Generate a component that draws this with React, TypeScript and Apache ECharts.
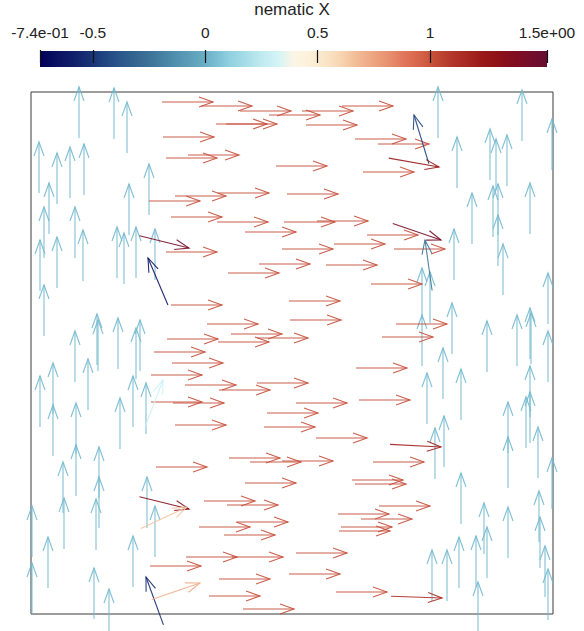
import React, { useEffect, useRef } from "react";
import * as echarts from "echarts";

// ---- colour bar (nematic X) ----
const CB_MIN = -0.735;
const CB_MAX = 1.52;
const colorTicks = [-0.735, -0.5, 0, 0.5, 1, 1.52];
const colorTickLabels = ["-7.4e-01", "-0.5", "0", "0.5", "1", "1.5e+00"];
const COLORMAP = [
  "#000059", "#0a1061", "#101e69", "#172f73", "#204380", "#29568a", "#336591", "#3d7499",
  "#4985a6", "#5697b3", "#63a7bf", "#77bcd1", "#92d1e0", "#a7dde8", "#c0eaf0", "#d2f4f7",
  "#fcf5e6", "#fcf1d9", "#fae5c8", "#f7d5b2", "#f2bb96", "#eda682", "#e8906f", "#e0755a",
  "#d66349", "#c24b36", "#b3362b", "#a62821", "#991818", "#8c1119", "#800d20", "#730e2c",
  "#660e31",
];

// ---- glyph field (arrow tip positions, domain units) ----
// arrows pointing up (nematic X ~ 0)
const upTipX = [
  79, 114, 127, 39, 57, 70, 84, 149, 49, 44, 75, 129, 83, 117, 124, 136, 155, 40, 57,
  438, 522, 552, 457, 490, 496, 507, 472, 493, 498, 530, 498, 454, 503,
  44, 97, 98, 118, 140, 136, 75, 88, 53, 40, 133, 146, 53, 76, 120,
  422, 430, 548, 422, 452, 487, 517, 530, 531, 548, 443, 461, 427, 530, 530, 526, 508, 444, 435, 538,
  76, 99, 63, 99, 147, 32, 64, 96, 155, 48, 133, 32, 94, 109,
  508, 552, 461, 539, 484, 508, 540, 487, 459, 476, 432, 447, 545, 548, 478,
];
const upTipY = [
  87, 88, 102, 142, 153, 147, 144, 164, 183, 207, 207, 184, 230, 227, 233, 227, 229, 240, 237,
  87, 90, 119, 137, 129, 139, 135, 193, 186, 184, 183, 215, 229, 244,
  285, 314, 320, 318, 320, 328, 331, 359, 363, 376, 376, 383, 405, 403, 398,
  268, 272, 273, 315, 303, 321, 315, 308, 313, 331, 348, 369, 373, 366, 392, 397, 402, 416, 428, 427,
  445, 447, 462, 477, 477, 506, 498, 499, 506, 537, 536, 563, 568, 589,
  437, 458, 473, 491, 503, 507, 517, 527, 537, 536, 550, 550, 546, 569, 582,
];
const UP_NX = 0.03;

// arrows pointing right (nematic X ~ 1)
const rightTipX = [
  213, 252, 291, 320, 267, 277, 214, 217, 239, 327, 200, 226, 269, 338, 222, 268, 296, 335, 333, 217,
  353, 393, 357, 406, 429, 414, 368, 418, 385, 445,
  310, 279, 222, 340, 258, 341, 282, 269, 308, 218, 205, 223, 202, 236, 270, 308, 202, 224, 226, 318,
  315, 377, 422, 447, 433, 407, 347, 410, 367,
  207, 280, 301, 333, 296, 255, 278, 250, 288, 275, 201, 237, 283, 347, 270, 260, 294, 340, 424, 403,
  406, 430, 389, 412, 392, 390, 387,
];
const rightTipY = [
  102, 106, 111, 115, 124, 124, 137, 158, 155, 166, 201, 196, 193, 194, 217, 222, 232, 222, 249, 252,
  111, 106, 125, 139, 144, 172, 221, 235, 244, 249,
  264, 273, 305, 301, 324, 320, 334, 342, 338, 339, 352, 363, 375, 385, 390, 383, 402, 403, 425, 413,
  427, 265, 284, 324, 337, 368, 403, 400, 438,
  467, 458, 462, 461, 483, 501, 505, 527, 522, 535, 566, 557, 557, 553, 579, 596, 609, 574, 462, 480,
  484, 506, 514, 519, 527, 531, 592,
];
const RIGHT_NX = 1.02;

// tilted arrows
const tiltTipX = [148, 146, 414, 425, 189, 441, 189, 439, 441, 442, 187, 200, 163];
const tiltTipY = [258, 577, 115, 240, 248, 240, 509, 167, 447, 598, 507, 583, 380];
const tiltAngle = [113, 110, 107, 98, -14, -19, -14, -10, -3, -2, 25, 19, 69];
const tiltNx = [-0.65, -0.55, -0.45, -0.25, 1.42, 1.42, 1.35, 1.25, 1.2, 1.15, 0.65, 0.72, 0.3];

const ARROW_LEN = 51;
const HEAD_LEN = 14;
const HEAD_W = 5;
const FONT = "Liberation Sans";

export default function App() {
  const ref = useRef<HTMLDivElement>(null);
  useEffect(() => {
    const chart = echarts.init(ref.current!, null, { renderer: "svg" });

    const glyphs: number[][] = [];
    upTipX.forEach((x, i) => glyphs.push([x, upTipY[i], 90, UP_NX]));
    rightTipX.forEach((x, i) => glyphs.push([x, rightTipY[i], 0, RIGHT_NX]));
    tiltTipX.forEach((x, i) => glyphs.push([x, tiltTipY[i], tiltAngle[i], tiltNx[i]]));

    const stops = COLORMAP.map((c, i) => ({ offset: i / (COLORMAP.length - 1), color: c }));

    const option: any = {
      animation: false,
      title: {
        text: "nematic X",
        left: "center",
        top: 0,
        padding: [1, 5, 5, 5],
        textStyle: { fontSize: 17, fontWeight: "normal", color: "#222", fontFamily: FONT },
      },
      grid: [
        {
          left: 31,
          top: 92,
          width: 522,
          height: 522,
          show: true,
          borderColor: "#3a3a3a",
          borderWidth: 1,
          backgroundColor: "transparent",
        },
        { left: 40, top: 51, width: 507, height: 16 },
      ],
      xAxis: [
        { gridIndex: 0, type: "value", min: 31, max: 553, show: false },
        {
          gridIndex: 1,
          type: "value",
          min: CB_MIN,
          max: CB_MAX,
          position: "top",
          offset: -4,
          z: 5,
          axisLine: { show: false },
          splitLine: { show: false },
          axisTick: {
            show: true,
            length: 13,
            customValues: colorTicks,
            lineStyle: { color: "#111", width: 1.2 },
          },
          axisLabel: {
            customValues: colorTicks,
            fontSize: 15.5,
            color: "#222",
            fontFamily: FONT,
            margin: 15,
            formatter: (v: number) => {
              let best = 0;
              colorTicks.forEach((t, i) => {
                if (Math.abs(t - v) < Math.abs(colorTicks[best] - v)) best = i;
              });
              return colorTickLabels[best];
            },
          },
        },
      ],
      yAxis: [
        { gridIndex: 0, type: "value", min: 92, max: 614, inverse: true, show: false },
        { gridIndex: 1, type: "value", min: 0, max: 1, show: false },
      ],
      visualMap: {
        type: "continuous",
        show: false,
        min: CB_MIN,
        max: CB_MAX,
        dimension: 3,
        seriesIndex: 1,
        inRange: { color: COLORMAP },
      },
      series: [
        {
          type: "custom",
          xAxisIndex: 1,
          yAxisIndex: 1,
          data: [[CB_MIN, CB_MAX]],
          renderItem: (_p: any, api: any) => {
            const a = api.coord([api.value(0), 1]);
            const b = api.coord([api.value(1), 0]);
            return {
              type: "rect",
              shape: { x: a[0], y: a[1], width: b[0] - a[0], height: b[1] - a[1] },
              style: { fill: new echarts.graphic.LinearGradient(0, 0, 1, 0, stops) },
            };
          },
        },
        {
          type: "custom",
          xAxisIndex: 0,
          yAxisIndex: 0,
          clip: false,
          data: glyphs,
          renderItem: (_p: any, api: any) => {
            const x = api.value(0);
            const y = api.value(1);
            const ang = (api.value(2) * Math.PI) / 180;
            const tip = api.coord([x, y]);
            const tail = api.coord([x - ARROW_LEN * Math.cos(ang), y + ARROW_LEN * Math.sin(ang)]);
            const dx = tip[0] - tail[0];
            const dy = tip[1] - tail[1];
            const len = Math.hypot(dx, dy) || 1;
            const ux = dx / len;
            const uy = dy / len;
            const px = -uy;
            const py = ux;
            const bx = tip[0] - HEAD_LEN * ux;
            const by = tip[1] - HEAD_LEN * uy;
            const color = api.visual("color");
            return {
              type: "group",
              children: [
                {
                  type: "line",
                  shape: { x1: tail[0], y1: tail[1], x2: tip[0], y2: tip[1] },
                  style: { stroke: color, lineWidth: 1.1, opacity: 0.9 },
                },
                {
                  type: "polyline",
                  shape: {
                    points: [
                      [bx + HEAD_W * px, by + HEAD_W * py],
                      [tip[0], tip[1]],
                      [bx - HEAD_W * px, by - HEAD_W * py],
                    ],
                  },
                  style: { stroke: color, fill: null, lineWidth: 1.1, opacity: 0.9 },
                },
              ],
            };
          },
        },
      ],
    };
    chart.setOption(option);
    return () => chart.dispose();
  }, []);
  return (
    <div
      ref={ref}
      style={{ position: "absolute", left: 0, top: 0, width: 584, height: 631 }}
    />
  );
}
